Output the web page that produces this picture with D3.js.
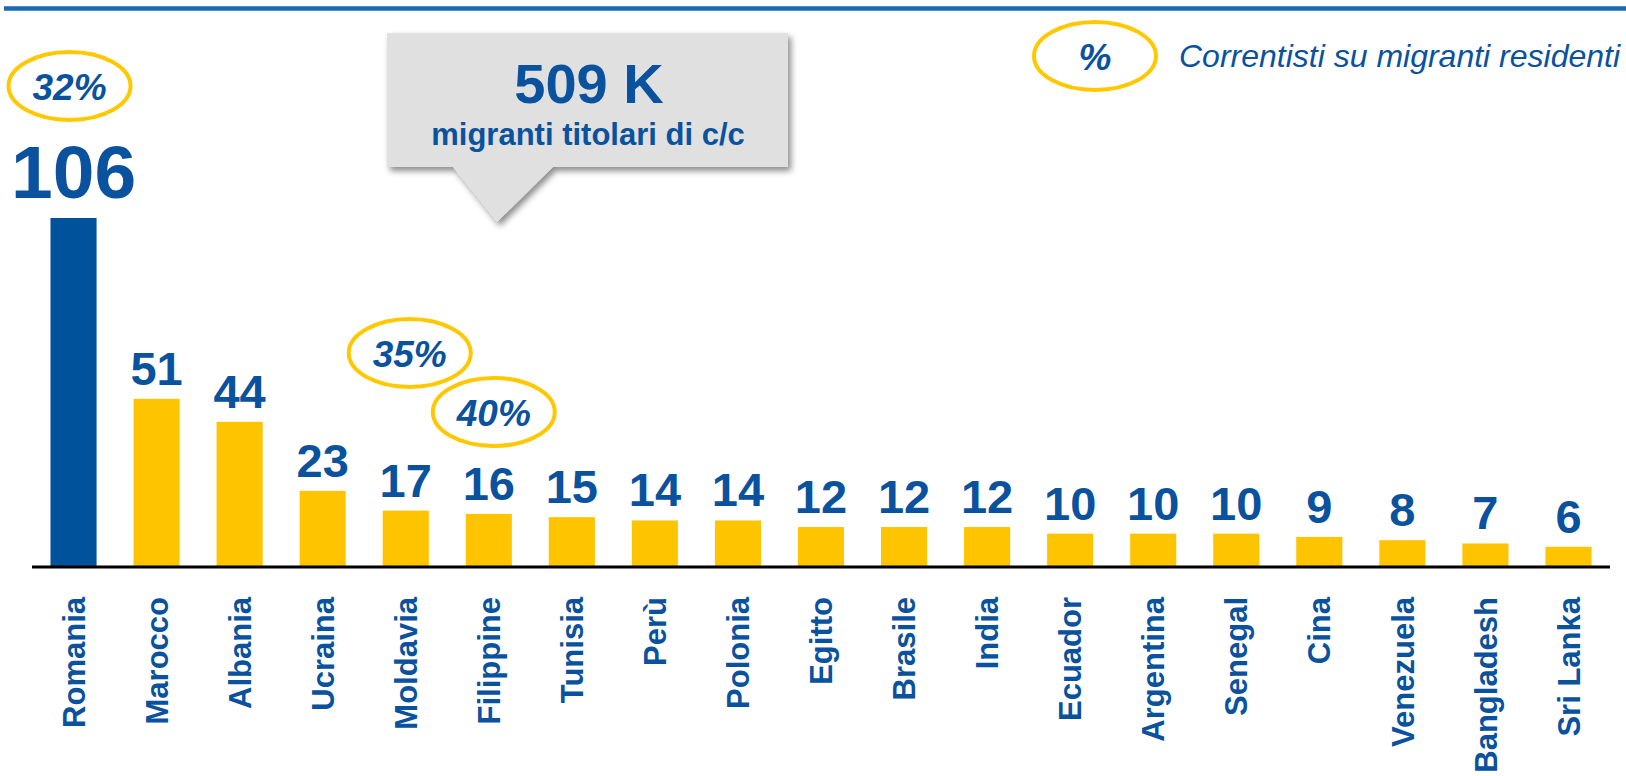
<!DOCTYPE html>
<html>
<head>
<meta charset="utf-8">
<script src="https://cdn.jsdelivr.net/npm/d3@7"></script>
<style>
  html, body { margin: 0; padding: 0; background: #fff; }
  svg { display: block; font-family: "Liberation Sans", Arial, sans-serif; }
</style>
</head>
<body>
<div id="chart"></div>
<script>
// paesi e migranti titolari di c/c (migliaia)
var paesi = ["Romania", "Marocco", "Albania", "Ucraina", "Moldavia", "Filippine", "Tunisia", "Perù",
    "Polonia", "Egitto", "Brasile", "India", "Ecuador", "Argentina", "Senegal", "Cina",
    "Venezuela", "Bangladesh", "Sri Lanka"];
var correntisti = [106, 51, 44, 23, 17, 16, 15, 14, 14, 12, 12, 12, 10, 10, 10, 9, 8, 7, 6];

// % correntisti su migranti residenti (solo alcuni paesi)
var pctPaesi = ["Romania", "Moldavia", "Filippine"];
var pctValori = ["32%", "35%", "40%"];

var totale = "509 K";
var totaleLabel = "migranti titolari di c/c";
var legendaLabel = "Correntisti su migranti residenti";

var width = 1626, height = 776;
var blu = "#0a529d", giallo = "#ffc400", bluBarra = "#00529b";

var svg = d3.select("#chart").append("svg")
    .attr("width", width).attr("height", height);

var defs = svg.append("defs");
var filt = defs.append("filter").attr("id", "ombra")
    .attr("x", "-10%").attr("y", "-10%").attr("width", "125%").attr("height", "130%");
filt.append("feDropShadow")
    .attr("dx", 3).attr("dy", 4).attr("stdDeviation", 3)
    .attr("flood-color", "#000").attr("flood-opacity", 0.45);

// riga blu in alto
svg.append("line")
    .attr("x1", 4).attr("x2", width).attr("y1", 8.5).attr("y2", 8.5)
    .attr("stroke", "#1a69b3").attr("stroke-width", 4.5);

var x = d3.scaleBand().domain(paesi).range([32, 1610])
    .paddingInner(0.445).paddingOuter(0.2225);
var y = d3.scaleLinear().domain([0, 106]).range([566.5, 218]);

var dati = paesi.map(function(p, i) { return {paese: p, v: correntisti[i]}; });

svg.append("g").selectAll("rect")
    .data(dati).enter().append("rect")
    .attr("x", d => x(d.paese))
    .attr("width", x.bandwidth())
    .attr("y", d => y(d.v))
    .attr("height", d => y(0) - y(d.v))
    .attr("fill", (d, i) => i == 0 ? bluBarra : giallo);

// asse
svg.append("line")
    .attr("x1", 32).attr("x2", 1610).attr("y1", y(0) + 0.5).attr("y2", y(0) + 0.5)
    .attr("stroke", "#000").attr("stroke-width", 3);

// valori sopra le barre
svg.append("g").selectAll("text")
    .data(dati).enter().append("text")
    .attr("x", d => x(d.paese) + x.bandwidth() / 2)
    .attr("y", (d, i) => y(d.v) - (i == 0 ? 20 : 14))
    .attr("text-anchor", "middle")
    .attr("font-weight", "bold")
    .attr("font-size", (d, i) => i == 0 ? 75 : 47)
    .attr("fill", blu)
    .text(d => d.v);

// etichette paesi ruotate
svg.append("g").selectAll("text")
    .data(paesi).enter().append("text")
    .attr("transform", d => "translate(" + (x(d) + x.bandwidth() / 2) + ",597) rotate(-90)")
    .attr("dy", "0.36em")
    .attr("text-anchor", "end")
    .attr("font-weight", "bold")
    .attr("font-size", 31)
    .attr("fill", blu)
    .text(d => d);

// ellissi con le percentuali
var pctLayout = {"Romania": {dx: -4, cy: 86}, "Moldavia": {dx: 4, cy: 353}, "Filippine": {dx: 5, cy: 412}};

function ellisse(g, cx, cy, txt) {
    g.append("ellipse")
        .attr("cx", cx).attr("cy", cy).attr("rx", 61).attr("ry", 34)
        .attr("fill", "#fff").attr("stroke", "#ffc800").attr("stroke-width", 4);
    g.append("text")
        .attr("x", cx).attr("y", cy + 14)
        .attr("text-anchor", "middle")
        .attr("font-weight", "bold").attr("font-style", "italic")
        .attr("font-size", 37).attr("fill", blu)
        .text(txt);
}

var gPct = svg.append("g");
pctPaesi.forEach(function(p, i) {
    var l = pctLayout[p];
    ellisse(gPct, x(p) + x.bandwidth() / 2 + l.dx, l.cy, pctValori[i]);
});

// legenda
var gLeg = svg.append("g");
ellisse(gLeg, 1095, 56, "%");
gLeg.append("text")
    .attr("x", 1179).attr("y", 67)
    .attr("font-style", "italic").attr("font-size", 32).attr("fill", blu)
    .text(legendaLabel);

// fumetto con il totale
var fumetto = d3.path();
fumetto.moveTo(387, 33);
fumetto.lineTo(788, 33);
fumetto.lineTo(788, 167);
fumetto.lineTo(553, 167);
fumetto.lineTo(497, 222);
fumetto.lineTo(453, 167);
fumetto.lineTo(387, 167);
fumetto.closePath();

var gBox = svg.append("g");
gBox.append("path")
    .attr("d", fumetto.toString())
    .attr("fill", "#e0e0e0")
    .attr("filter", "url(#ombra)");
gBox.append("text")
    .attr("x", 589).attr("y", 103)
    .attr("text-anchor", "middle").attr("font-weight", "bold")
    .attr("font-size", 56).attr("fill", blu)
    .text(totale);
gBox.append("text")
    .attr("x", 588).attr("y", 145)
    .attr("text-anchor", "middle").attr("font-weight", "bold")
    .attr("font-size", 31).attr("fill", blu)
    .text(totaleLabel);
</script>
</body>
</html>
